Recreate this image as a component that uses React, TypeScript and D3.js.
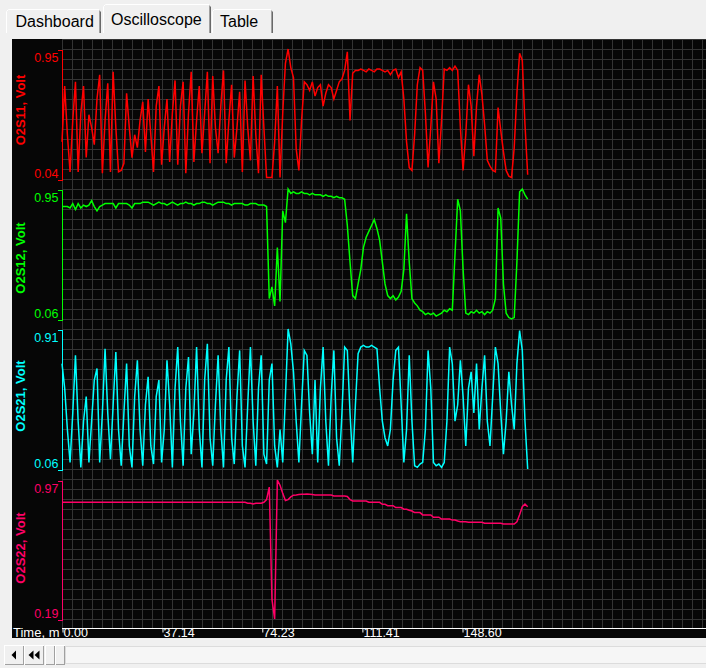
import { useEffect, useRef } from "react";
import * as d3 from "d3";

// one reading per minute, x axis in minutes
const SAMPLE_STEP_MIN = 1;
const TIME_TICKS = [0, 37.14, 74.23, 111.41, 148.6];
const TIME_LABEL = "Time, m";
const TABS = ["Dashboard", "Oscilloscope", "Table"];
const ACTIVE_TAB = 1;

const CHANNELS = ["O2S11, Volt", "O2S12, Volt", "O2S21, Volt", "O2S22, Volt"];
const CHANNEL_MIN = [0.04, 0.06, 0.06, 0.19];
const CHANNEL_MAX = [0.95, 0.95, 0.91, 0.97];

const O2S11 = [
  0.30, 0.69, 0.35, 0.09, 0.45, 0.72, 0.09, 0.50, 0.69, 0.19,
  0.49, 0.40, 0.28, 0.60, 0.77, 0.08, 0.45, 0.71, 0.09, 0.79,
  0.40, 0.09, 0.10, 0.15, 0.64, 0.40, 0.19, 0.35, 0.26, 0.45,
  0.58, 0.23, 0.60, 0.35, 0.09, 0.55, 0.69, 0.14, 0.40, 0.60,
  0.16, 0.50, 0.73, 0.14, 0.55, 0.72, 0.08, 0.50, 0.79, 0.16,
  0.45, 0.69, 0.22, 0.50, 0.79, 0.15, 0.76, 0.40, 0.22, 0.55,
  0.80, 0.15, 0.45, 0.70, 0.19, 0.40, 0.65, 0.09, 0.73, 0.40,
  0.17, 0.76, 0.35, 0.08, 0.77, 0.40, 0.05, 0.05, 0.05, 0.30,
  0.69, 0.05, 0.50, 0.85, 0.95, 0.82, 0.75, 0.25, 0.10, 0.45,
  0.72, 0.70, 0.66, 0.72, 0.62, 0.68, 0.70, 0.55, 0.64, 0.70,
  0.68, 0.60, 0.66, 0.72, 0.74, 0.80, 0.93, 0.45, 0.78, 0.80,
  0.80, 0.81, 0.80, 0.79, 0.81, 0.80, 0.79, 0.81, 0.81, 0.80,
  0.79, 0.80, 0.77, 0.80, 0.81, 0.75, 0.79, 0.60, 0.30, 0.12,
  0.10, 0.35, 0.70, 0.82, 0.80, 0.50, 0.12, 0.40, 0.72, 0.60,
  0.15, 0.45, 0.81, 0.80, 0.82, 0.80, 0.83, 0.80, 0.40, 0.10,
  0.35, 0.70, 0.55, 0.20, 0.55, 0.77, 0.63, 0.42, 0.17, 0.13,
  0.10, 0.09, 0.54, 0.38, 0.23, 0.10, 0.06, 0.05, 0.26, 0.64,
  0.92, 0.87, 0.42, 0.07,
];

const O2S12 = [
  0.83, 0.83, 0.83, 0.82, 0.85, 0.81, 0.85, 0.82, 0.84, 0.83,
  0.84, 0.87, 0.83, 0.80, 0.83, 0.84, 0.85, 0.85, 0.85, 0.85,
  0.82, 0.85, 0.85, 0.85, 0.85, 0.84, 0.82, 0.85, 0.85, 0.85,
  0.86, 0.86, 0.86, 0.85, 0.84, 0.85, 0.86, 0.85, 0.85, 0.84,
  0.85, 0.86, 0.85, 0.84, 0.85, 0.85, 0.86, 0.85, 0.85, 0.84,
  0.85, 0.85, 0.86, 0.86, 0.85, 0.85, 0.84, 0.85, 0.86, 0.86,
  0.86, 0.85, 0.85, 0.84, 0.85, 0.85, 0.85, 0.85, 0.84, 0.84,
  0.85, 0.85, 0.85, 0.84, 0.84, 0.84, 0.83, 0.20, 0.28, 0.15,
  0.55, 0.18, 0.80, 0.72, 0.95, 0.92, 0.93, 0.92, 0.92, 0.93,
  0.92, 0.92, 0.91, 0.92, 0.91, 0.91, 0.91, 0.90, 0.91, 0.90,
  0.90, 0.89, 0.90, 0.89, 0.89, 0.88, 0.70, 0.45, 0.22, 0.20,
  0.30, 0.40, 0.55, 0.62, 0.66, 0.70, 0.74, 0.68, 0.60, 0.45,
  0.30, 0.22, 0.20, 0.22, 0.19, 0.21, 0.25, 0.40, 0.78, 0.45,
  0.20, 0.17, 0.15, 0.12, 0.11, 0.09, 0.10, 0.09, 0.10, 0.08,
  0.09, 0.10, 0.12, 0.11, 0.13, 0.12, 0.50, 0.88, 0.80, 0.40,
  0.10, 0.09, 0.11, 0.10, 0.12, 0.10, 0.11, 0.09, 0.11, 0.10,
  0.12, 0.20, 0.82, 0.75, 0.30, 0.10, 0.07, 0.06, 0.07, 0.45,
  0.93, 0.95, 0.91, 0.88,
];

const O2S21 = [
  0.70, 0.55, 0.30, 0.10, 0.40, 0.75, 0.35, 0.07, 0.35, 0.50,
  0.10, 0.35, 0.60, 0.67, 0.10, 0.40, 0.79, 0.40, 0.12, 0.45,
  0.77, 0.30, 0.08, 0.40, 0.70, 0.20, 0.07, 0.50, 0.72, 0.30,
  0.08, 0.45, 0.62, 0.20, 0.09, 0.50, 0.60, 0.10, 0.30, 0.72,
  0.45, 0.07, 0.55, 0.80, 0.35, 0.08, 0.55, 0.74, 0.15, 0.40,
  0.80, 0.30, 0.07, 0.60, 0.82, 0.25, 0.08, 0.45, 0.75, 0.30,
  0.07, 0.60, 0.80, 0.25, 0.09, 0.50, 0.78, 0.20, 0.07, 0.45,
  0.80, 0.35, 0.08, 0.55, 0.75, 0.15, 0.09, 0.60, 0.70, 0.20,
  0.07, 0.30, 0.10, 0.50, 0.91, 0.82, 0.65, 0.35, 0.10, 0.45,
  0.78, 0.75, 0.40, 0.15, 0.60, 0.10, 0.55, 0.80, 0.35, 0.08,
  0.50, 0.78, 0.25, 0.08, 0.40, 0.80, 0.78, 0.40, 0.10, 0.45,
  0.76, 0.80, 0.81, 0.80, 0.80, 0.81, 0.80, 0.79, 0.55, 0.35,
  0.25, 0.20, 0.30, 0.60, 0.78, 0.80, 0.45, 0.10, 0.30, 0.75,
  0.35, 0.08, 0.07, 0.09, 0.10, 0.30, 0.78, 0.55, 0.10, 0.08,
  0.09, 0.07, 0.10, 0.35, 0.80, 0.70, 0.35, 0.45, 0.72, 0.50,
  0.20, 0.55, 0.65, 0.40, 0.70, 0.30, 0.55, 0.75, 0.35, 0.20,
  0.50, 0.80, 0.70, 0.40, 0.15, 0.35, 0.65, 0.45, 0.30, 0.70,
  0.90, 0.78, 0.35, 0.06,
];

const O2S22 = [
  0.845, 0.845, 0.845, 0.845, 0.845, 0.845, 0.845, 0.845, 0.845, 0.845,
  0.845, 0.845, 0.845, 0.845, 0.845, 0.845, 0.845, 0.845, 0.845, 0.845,
  0.845, 0.845, 0.845, 0.845, 0.845, 0.845, 0.845, 0.845, 0.845, 0.845,
  0.845, 0.845, 0.845, 0.845, 0.845, 0.845, 0.845, 0.845, 0.845, 0.845,
  0.845, 0.845, 0.845, 0.845, 0.845, 0.845, 0.845, 0.845, 0.845, 0.845,
  0.845, 0.845, 0.845, 0.845, 0.845, 0.845, 0.845, 0.845, 0.845, 0.845,
  0.845, 0.845, 0.845, 0.845, 0.845, 0.845, 0.845, 0.845, 0.845, 0.84,
  0.84, 0.835, 0.84, 0.84, 0.84, 0.845, 0.86, 0.93, 0.30, 0.19,
  0.97, 0.94, 0.895, 0.855, 0.86, 0.875, 0.885, 0.886, 0.888, 0.89,
  0.89, 0.892, 0.89, 0.888, 0.886, 0.886, 0.886, 0.886, 0.886, 0.886,
  0.886, 0.88, 0.88, 0.88, 0.88, 0.88, 0.878, 0.86, 0.852, 0.852,
  0.852, 0.852, 0.852, 0.852, 0.845, 0.845, 0.845, 0.845, 0.845, 0.834,
  0.834, 0.826, 0.826, 0.826, 0.815, 0.815, 0.815, 0.806, 0.806, 0.80,
  0.796, 0.787, 0.787, 0.787, 0.774, 0.774, 0.774, 0.774, 0.761, 0.761,
  0.761, 0.751, 0.751, 0.751, 0.751, 0.745, 0.745, 0.74, 0.736, 0.736,
  0.736, 0.733, 0.733, 0.733, 0.733, 0.733, 0.733, 0.727, 0.727, 0.727,
  0.727, 0.727, 0.727, 0.727, 0.723, 0.723, 0.723, 0.723, 0.723, 0.735,
  0.775, 0.82, 0.835, 0.82,
];

const SERIES = [O2S11, O2S12, O2S21, O2S22];
const COLORS = ["#ff0000", "#00ff00", "#00ffff", "#ff0066"];

// layout
const WIDTH = 706;
const HEIGHT = 668;
const FONT = "'Liberation Sans', Arial, sans-serif";
const CHART = { left: 12, top: 39, right: 706, bottom: 638 };
const PLOT_LEFT = 62;
const AXIS_Y = 628;
const TICK_SPACING = 100;
const BANDS = [
  { top: 49, bottom: 179, titleY: 110 },
  { top: 189, bottom: 319, titleY: 258 },
  { top: 329, bottom: 469, titleY: 396 },
  { top: 480, bottom: 619, titleY: 548 },
];
const TAB_BOXES = [
  { x: 6, w: 96, textX: 15.5 },
  { x: 103, w: 109, textX: 111 },
  { x: 212, w: 62, textX: 220 },
];

export default function App() {
  const svgRef = useRef<SVGSVGElement>(null);

  useEffect(() => {
    if (!svgRef.current) return;
    const svg = d3.select(svgRef.current);
    svg.selectAll("*").remove();

    svg.append("rect").attr("width", WIDTH).attr("height", HEIGHT).attr("fill", "#f0f0f0");

    // Tabs
    const tabs = svg.append("g").attr("font-family", FONT).attr("font-size", 16);
    TABS.forEach((name, i) => {
      const b = TAB_BOXES[i];
      const active = i === ACTIVE_TAB;
      const top = active ? 4.5 : 9.5;
      const bottom = 33;
      tabs
        .append("rect")
        .attr("x", b.x)
        .attr("y", top)
        .attr("width", b.w)
        .attr("height", bottom - top)
        .attr("fill", "#f0f0f0");
      tabs
        .append("path")
        .attr("d", `M${b.x + 0.5},${bottom}V${top + 2}L${b.x + 2.5},${top}H${b.x + b.w - 3}`)
        .attr("fill", "none")
        .attr("stroke", "#ffffff");
      tabs
        .append("path")
        .attr("d", `M${b.x + b.w - 2.5},${top + 1}V${bottom}`)
        .attr("stroke", "#a0a0a0");
      tabs
        .append("path")
        .attr("d", `M${b.x + b.w - 1.5},${top + 2}V${bottom}`)
        .attr("stroke", "#696969");
      tabs
        .append("text")
        .attr("x", b.textX)
        .attr("y", active ? 24.5 : 27)
        .attr("fill", "#000")
        .text(name);
    });

    // Chart area
    svg
      .append("clipPath")
      .attr("id", "chart-clip")
      .append("rect")
      .attr("x", CHART.left)
      .attr("y", CHART.top)
      .attr("width", CHART.right - CHART.left)
      .attr("height", CHART.bottom - CHART.top);

    const chart = svg.append("g").attr("clip-path", "url(#chart-clip)");
    chart
      .append("rect")
      .attr("x", CHART.left)
      .attr("y", CHART.top)
      .attr("width", CHART.right - CHART.left)
      .attr("height", CHART.bottom - CHART.top)
      .attr("fill", "#060606");

    // Grid
    const grid = chart
      .append("g")
      .attr("stroke", "#333333")
      .attr("shape-rendering", "crispEdges");
    d3.range(PLOT_LEFT + 0.5, CHART.right, 10).forEach((gx) => {
      grid.append("line").attr("x1", gx).attr("x2", gx).attr("y1", CHART.top).attr("y2", AXIS_Y);
    });
    d3.range(CHART.top + 0.5, AXIS_Y, 10).forEach((gy) => {
      grid.append("line").attr("x1", PLOT_LEFT).attr("x2", CHART.right).attr("y1", gy).attr("y2", gy);
    });

    const x = d3
      .scaleLinear()
      .domain([TIME_TICKS[0], TIME_TICKS[TIME_TICKS.length - 1]])
      .range([PLOT_LEFT, PLOT_LEFT + TICK_SPACING * (TIME_TICKS.length - 1)]);

    // Channels
    SERIES.forEach((values, k) => {
      const band = BANDS[k];
      const color = COLORS[k];
      const y = d3
        .scaleLinear()
        .domain([CHANNEL_MIN[k], CHANNEL_MAX[k]])
        .range([band.bottom, band.top]);

      const line = d3
        .line<number>()
        .x((_, i) => x(i * SAMPLE_STEP_MIN))
        .y((d) => y(d));

      chart
        .append("path")
        .datum(values)
        .attr("d", line)
        .attr("fill", "none")
        .attr("stroke", color)
        .attr("stroke-width", 1.5);

      // min / max bracket
      const axis = chart
        .append("g")
        .attr("transform", `translate(${PLOT_LEFT - 0.5},0.5)`)
        .call(
          d3
            .axisLeft(y)
            .tickValues([CHANNEL_MIN[k], CHANNEL_MAX[k]])
            .tickSizeInner(0)
            .tickSizeOuter(4)
            .tickPadding(3)
            .tickFormat((d) => (+d).toFixed(2))
        );
      axis.attr("color", color).attr("font-family", FONT).attr("font-size", 12.5);
      axis.select(".domain").attr("stroke-width", 1).attr("shape-rendering", "crispEdges");
      axis
        .selectAll<SVGTextElement, number>("text")
        .attr("y", (d) => (d === CHANNEL_MAX[k] ? 7.5 : -6));

      chart
        .append("text")
        .attr("transform", `translate(25,${band.titleY}) rotate(-90)`)
        .attr("text-anchor", "middle")
        .attr("font-family", FONT)
        .attr("font-size", 13)
        .attr("font-weight", "bold")
        .attr("fill", color)
        .text(CHANNELS[k]);
    });

    // Time axis
    chart
      .append("line")
      .attr("x1", PLOT_LEFT)
      .attr("x2", CHART.right)
      .attr("y1", AXIS_Y + 0.5)
      .attr("y2", AXIS_Y + 0.5)
      .attr("stroke", "#ffffff");

    chart
      .append("text")
      .attr("x", 13)
      .attr("y", 636.7)
      .attr("font-family", FONT)
      .attr("font-size", 13)
      .attr("fill", "#ffffff")
      .text(TIME_LABEL);

    const xAxis = chart
      .append("g")
      .attr("transform", `translate(0.5,${AXIS_Y + 0.5})`)
      .call(
        d3
          .axisBottom(x)
          .tickValues(TIME_TICKS)
          .tickSize(4)
          .tickFormat((d) => (+d).toFixed(2))
      );
    xAxis.select(".domain").remove();
    xAxis.attr("color", "#ffffff").attr("font-family", FONT).attr("font-size", 12.5);
    xAxis
      .selectAll("text")
      .attr("text-anchor", "start")
      .attr("x", 0.5)
      .attr("y", 8.5)
      .attr("dy", null);

    // Scroll bar
    const sb = svg.append("g").attr("shape-rendering", "crispEdges");
    sb.append("rect")
      .attr("x", 65.5)
      .attr("y", 646.5)
      .attr("width", 641)
      .attr("height", 17)
      .attr("fill", "#f6f6f6")
      .attr("stroke", "#dcdcdc");

    const button = (bx: number, bw: number) => {
      sb.append("rect")
        .attr("x", bx)
        .attr("y", 645)
        .attr("width", bw)
        .attr("height", 20)
        .attr("fill", "#f0f0f0");
      sb.append("path")
        .attr("d", `M${bx + 0.5},${664.5}V${645.5}H${bx + bw - 0.5}`)
        .attr("fill", "none")
        .attr("stroke", "#ffffff");
      sb.append("path")
        .attr("d", `M${bx + 0.5},${664.5}H${bx + bw - 0.5}V${645.5}`)
        .attr("fill", "none")
        .attr("stroke", "#a0a0a0");
    };
    button(4, 20);
    button(24, 20);
    button(45, 10);
    button(55, 10);

    const arrows = svg.append("g").attr("fill", "#000000");
    arrows.append("path").attr("d", "M11.5,655L16,650.5V659.5Z");
    arrows.append("path").attr("d", "M28.5,655L33.5,650.5V659.5Z");
    arrows.append("path").attr("d", "M34.5,655L39.5,650.5V659.5Z");
  }, []);

  return (
    <svg
      ref={svgRef}
      width={WIDTH}
      height={HEIGHT}
      style={{ position: "absolute", left: 0, top: 0 }}
    />
  );
}
